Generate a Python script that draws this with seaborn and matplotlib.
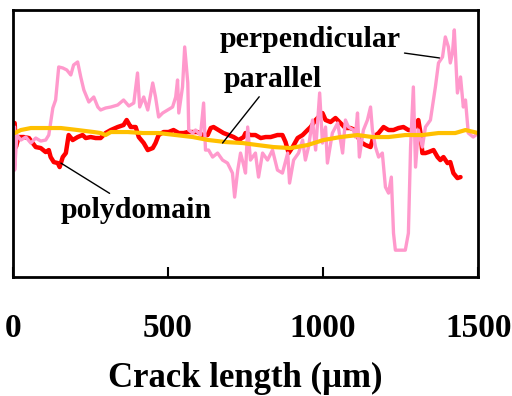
import numpy as np
import pandas as pd
import seaborn as sns
import matplotlib
matplotlib.use("Agg")
import matplotlib.pyplot as plt

# -------------------------------------------------
# Crack profiles
# x = crack length (um), y = relative height (arbitrary units)
# -------------------------------------------------
perp_x = [6, 6, 13, 26, 42, 58, 74, 90, 106, 116, 129, 138, 148, 161, 174, 187, 196, 209, 219, 229,
          245, 261, 274, 283, 299, 316, 338, 357, 374, 390, 402, 409, 422, 435, 451, 460, 470, 483, 499,
          515, 525, 531, 535, 547, 554, 564, 567, 580, 589, 605, 615, 621, 631, 644, 660, 676, 692, 708,
          715, 725, 734, 744, 750, 757, 766, 782, 792, 805, 821, 837, 853, 869, 886, 892, 905, 921, 934,
          943, 953, 966, 976, 989, 998, 1008, 1014, 1030, 1047, 1063, 1072, 1082, 1098, 1104, 1111, 1117,
          1130, 1143, 1153, 1159, 1169, 1179, 1191, 1201, 1211, 1220, 1227, 1233, 1265, 1275, 1282, 1291,
          1298, 1307, 1320, 1330, 1346, 1362, 1372, 1385, 1394, 1404, 1410, 1417, 1423, 1433, 1443, 1452,
          1459, 1468, 1484, 1500]
perp_y = [150, 107, 142, 137, 140, 134, 139, 136, 137, 142, 169, 177, 210, 209, 207, 202, 212, 215, 200, 187,
          175, 180, 170, 167, 169, 170, 172, 177, 171, 174, 204, 170, 180, 167, 194, 180, 160, 164, 167,
          170, 180, 197, 164, 190, 230, 194, 147, 144, 147, 142, 174, 127, 127, 120, 124, 117, 114, 104,
          80, 107, 124, 112, 104, 150, 117, 124, 100, 124, 117, 127, 107, 104, 124, 94, 117, 124, 137,
          117, 130, 157, 127, 184, 134, 150, 114, 144, 154, 124, 157, 150, 147, 140, 164, 120,
          147, 157, 170, 147, 130, 120, 124, 90, 84, 100, 44, 27, 27, 44, 130, 190,
          110, 147, 130, 150, 157, 190, 214, 220, 240, 230, 214, 224, 247, 184, 200, 170,
          177, 144, 140, 144]

poly_x = [6, 10, 19, 35, 52, 64, 74, 90, 106, 116, 122, 132, 145, 151, 161, 171, 180, 193, 209, 225,
          235, 251, 267, 283, 299, 316, 338, 357, 367, 380, 386, 396, 406, 422, 435, 451, 460, 470, 486,
          502, 518, 535, 551, 564, 580, 596, 612, 628, 638, 647, 663, 679, 696, 712, 728, 744, 750, 766,
          782, 799, 815, 831, 853, 869, 879, 889, 902, 918, 934, 950, 960, 976, 998, 1008, 1024, 1040,
          1056, 1072, 1088, 1104, 1117, 1121, 1137, 1153, 1162, 1179, 1195, 1211, 1227, 1243, 1259, 1275,
          1291, 1307, 1314, 1320, 1330, 1340, 1356, 1369, 1378, 1388, 1401, 1410, 1420, 1433, 1443]
poly_y = [154, 130, 140, 140, 139, 134, 130, 129, 125, 127, 120, 115, 114, 110, 120, 124, 142, 137, 140, 142,
          139, 140, 139, 139, 144, 147, 150, 152, 157, 150, 150, 150, 140, 134, 127, 129, 134, 142, 145,
          145, 147, 144, 144, 145, 145, 145, 142, 142, 149, 150, 147, 144, 142, 140, 137, 140, 144, 142,
          142, 139, 140, 140, 142, 142, 135, 124, 130, 139, 142, 147, 150, 157, 164, 157, 155, 159,
          154, 149, 149, 147, 137, 135, 132, 130, 140, 144, 150, 147, 147, 149, 150, 147,
          147, 157, 144, 124, 124, 125, 127, 120, 117, 120, 114, 115, 104, 99, 100]

par_x = [6, 26, 58, 100, 155, 209, 261, 283, 299, 316, 370, 419, 470, 525, 580, 631, 686, 741, 789,
         840, 895, 950, 1001, 1056, 1111, 1159, 1211, 1265, 1320, 1372, 1426, 1459, 1500]
par_y = [144, 147, 149, 149, 149, 147, 145, 144, 142, 145, 145, 144, 144, 142, 140, 137, 135, 134, 132,
         130, 129, 132, 137, 140, 142, 140, 140, 142, 142, 144, 144, 147, 144]

x_ticks = [0, 500, 1000, 1500]

sns.set_style("ticks")
plt.rcParams['font.family'] = ['Liberation Serif', 'DejaVu Serif']
plt.rcParams['font.weight'] = 'bold'
plt.rcParams['text.color'] = 'black'
plt.rcParams['axes.labelcolor'] = 'black'
plt.rcParams['xtick.color'] = 'black'

fig = plt.figure(figsize=(5.12, 3.96), dpi=100)
ax = fig.add_axes([0.025, 0.3, 0.909, 0.675])

perp = pd.DataFrame({"x": perp_x, "y": perp_y})
poly = pd.DataFrame({"x": poly_x, "y": poly_y})
par = pd.DataFrame({"x": par_x, "y": par_y})

sns.lineplot(data=poly, x="x", y="y", color="#FF0000", lw=3.2, estimator=None, sort=False, ax=ax)
sns.lineplot(data=perp, x="x", y="y", color="#FF99CC", lw=2.4, estimator=None, sort=False, ax=ax)
sns.lineplot(data=par, x="x", y="y", color="#FFC000", lw=3.0, estimator=None, sort=False, ax=ax)

ax.set_xlim(0, 1500)
ax.set_ylim(0, 267)
ax.set_xticks(x_ticks)
ax.set_xticklabels([str(t) for t in x_ticks], fontsize=24, fontweight='bold', color='black')
ax.set_yticks([])
ax.tick_params(axis='x', direction='in', length=7, width=1.5, pad=26, colors='black')
for s in ax.spines.values():
    s.set_linewidth(2)
    s.set_color('black')
ax.set_xlabel("Crack length (µm)", fontsize=25, fontweight='bold', labelpad=13, color='black')
ax.set_ylabel("")

# labels with leader lines
kw = dict(fontsize=21.5, fontweight='bold', ha='center', va='center', annotation_clip=False,
          color='black',
          arrowprops=dict(arrowstyle='-', color='black', lw=1, shrinkA=0, shrinkB=0))
ax.annotate("perpendicular", xy=(1375, 219), xytext=(960, 237), **kw)
ax.annotate("parallel", xy=(676, 134), xytext=(837, 197), **kw)
ax.annotate("polydomain", xy=(155, 114), xytext=(399, 67), **kw)

fig.savefig("out.png", dpi=100)
